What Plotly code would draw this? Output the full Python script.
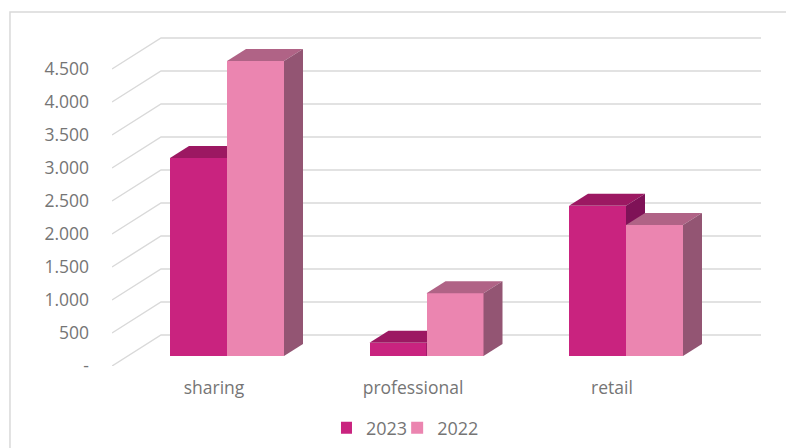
"""
3D-look clustered bars: 2023 vs 2022 by channel.
"""
import plotly.graph_objects as go

categories = ['sharing', 'professional', 'retail']
values_2023 = [3000, 200, 2275]
values_2022 = [4470, 950, 1985]
tick_vals = [0, 500, 1000, 1500, 2000, 2500, 3000, 3500, 4000, 4500]
tick_text = ['-', '500', '1.000', '1.500', '2.000', '2.500', '3.000', '3.500', '4.000', '4.500']

# the page body adds 8px on the left and top, so the figure is drawn 8px smaller
PAGE = 8
W, H = 794 - PAGE, 448 - PAGE
LEFT, RIGHT, TOP, BOTTOM = 112 - PAGE, 761 - PAGE, 36 - PAGE, 366 - PAGE
X_PX = 1 / 199
Y_PX = 500 / 33

# floor depth and bar depth, in pixels
WALL_DX, WALL_DY = 49 * X_PX, 31 * Y_PX
BAR_DX, BAR_DY = 19 * X_PX, 12 * Y_PX
BAR_BASE = 10 * Y_PX
BAR_W = 57 * X_PX
BAR_OFFSET = -15.5 * X_PX  # first bar centre relative to the label position
BAR_STEP = 199.5 * X_PX

label0 = 214 - PAGE
x_range = [-(label0 - LEFT) * X_PX, (RIGHT - label0) * X_PX]
y_range = [0, (BOTTOM - TOP) * Y_PX]

GRID = '#d9d9d9'
TEXT = '#757575'
FONT = 'Open Sans'


def add_bar_series(fig, values, name, front, top, side, shift, axes):
    xs = [i * BAR_STEP + BAR_OFFSET + shift for i in range(len(values))]
    fig.add_trace(go.Bar(
        x=xs, y=values, base=BAR_BASE, width=BAR_W, name=name,
        marker=dict(color=front, line=dict(width=0)),
        xaxis=axes[0], yaxis=axes[1],
    ))
    for x, v in zip(xs, values):
        x0, x1 = x - BAR_W / 2, x + BAR_W / 2
        y0, y1 = BAR_BASE, BAR_BASE + v
        fig.add_trace(go.Scatter(
            x=[x0, x0 + BAR_DX, x1 + BAR_DX, x1, x0],
            y=[y1, y1 + BAR_DY, y1 + BAR_DY, y1, y1],
            mode='lines', fill='toself', fillcolor=top, line=dict(width=0),
            showlegend=False, hoverinfo='skip', xaxis=axes[0], yaxis=axes[1],
        ))
        fig.add_trace(go.Scatter(
            x=[x1, x1 + BAR_DX, x1 + BAR_DX, x1, x1],
            y=[y0, y0 + BAR_DY, y1 + BAR_DY, y1, y0],
            mode='lines', fill='toself', fillcolor=side, line=dict(width=0),
            showlegend=False, hoverinfo='skip', xaxis=axes[0], yaxis=axes[1],
        ))


fig = go.Figure()

add_bar_series(fig, values_2023, '2023', '#c9237f', '#9c1862', '#7f1257', 0, ('x', 'y'))
add_bar_series(fig, values_2022, '2022', '#eb85b0', '#b06386', '#935573', BAR_W, ('x2', 'y2'))

# back wall grid and its diagonals on the side wall, under the bars
grid = []
for t in tick_vals:
    grid.append(dict(
        type='path', xref='x', yref='y', layer='below',
        path='M {} {} L {} {} L {} {}'.format(
            x_range[0], t, x_range[0] + WALL_DX, t + WALL_DY, x_range[1], t + WALL_DY),
        line=dict(color=GRID, width=1.4),
    ))

# chart frame: only the left and top edges show in the picture
frame_x = (10 - PAGE - LEFT) / (RIGHT - LEFT)
frame_y = (BOTTOM - (12 - PAGE)) / (BOTTOM - TOP)
frame = dict(
    type='path', xref='paper', yref='paper', layer='below',
    path='M {:.4f} -0.5 L {:.4f} {:.4f} L 1.5 {:.4f}'.format(frame_x, frame_x, frame_y, frame_y),
    line=dict(color=GRID, width=1.5),
)

fig.update_layout(
    width=W, height=H, autosize=False,
    margin=dict(l=LEFT, r=W - RIGHT, t=TOP, b=H - BOTTOM, pad=0, autoexpand=False),
    plot_bgcolor='white', paper_bgcolor='white',
    font=dict(family=FONT, color=TEXT, size=17.5),
    barmode='overlay', bargap=0,
    xaxis=dict(
        range=x_range, tickmode='array', tickvals=[0, 1, 2], ticktext=categories,
        showgrid=False, zeroline=False, showline=False, ticks='',
        ticklabelstandoff=9, automargin=False,
    ),
    yaxis=dict(
        range=y_range, tickmode='array', tickvals=tick_vals, ticktext=tick_text,
        showgrid=False, zeroline=False, showline=False, ticks='',
        ticklabelstandoff=22, automargin=False,
    ),
    xaxis2=dict(overlaying='x', matches='x', visible=False),
    yaxis2=dict(overlaying='y', matches='y', visible=False),
    legend=dict(
        orientation='h', x=0.463, xanchor='center', y=-0.188, yanchor='middle',
        font=dict(size=18), traceorder='normal', bgcolor='rgba(0,0,0,0)',
        indentation=-15,
    ),
    shapes=grid + [frame],
)

fig.write_html("out.html")
